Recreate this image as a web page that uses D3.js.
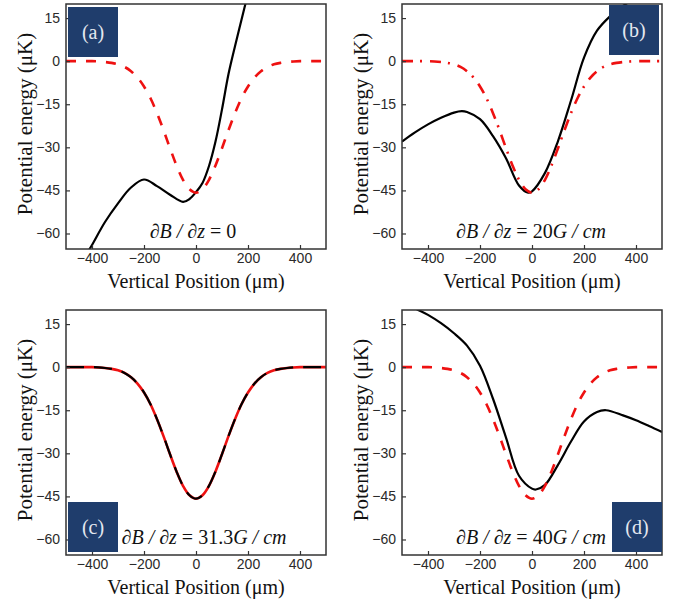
<!DOCTYPE html>
<html>
<head>
<meta charset="utf-8">
<script src="https://cdnjs.cloudflare.com/ajax/libs/d3/7.8.5/d3.min.js"></script>
<style>
  body { margin: 0; background: #fff; }
  .tick text { font-family: 'Liberation Sans', Arial, sans-serif; font-size: 14px; fill: #2a2a2a; }
  .tick line { stroke: #333; stroke-width: 1.2; }
  .axis-title { font-family: 'Liberation Serif', 'Times New Roman', serif; fill: #111; }
  .note { font-family: 'Liberation Serif', 'Times New Roman', serif; font-size: 20px; fill: #111; }
  .tag { font-family: 'Liberation Serif', 'Times New Roman', serif; font-size: 20px; fill: #e4e8f0; }
</style>
</head>
<body>
<script>
// tick values
const xTicks = [-400, -200, 0, 200, 400];
const yTicks = [15, 0, -15, -30, -45, -60];

// optical trap well (red)
const wellX = [-500, -475, -450, -425, -400, -375, -350, -325, -300, -275, -250, -225, -200, -175, -150, -125, -100, -75, -50, -25,
  0, 25, 50, 75, 100, 125, 150, 175, 200, 225, 250, 275, 300, 325, 350, 375, 400, 425, 450, 475, 500];
const wellU = [0, 0, 0, 0, 0, -0.1, -0.3, -0.6, -1.1, -2.0, -3.5, -5.7, -8.8, -12.9, -18.1, -24.0, -30.3, -36.3, -41.3, -44.6,
  -45.8, -44.6, -41.3, -36.3, -30.3, -24.0, -18.1, -12.9, -8.8, -5.7, -3.5, -2.0, -1.1, -0.6, -0.3, -0.1, 0, 0, 0, 0, 0];

// total potential (black), one per gradient
const aX = [-420, -400, -350, -300, -250, -200, -150, -100, -50, -25, 0, 25, 50, 75, 100, 125, 150, 175, 200];
const aU = [-67, -64, -56, -49.5, -44, -41.2, -43.5, -46.5, -49, -48, -45.6, -42.4, -36.5, -28, -16.8, -4.5, 5.2, 14.4, 23.6];

const bX = [-500, -450, -400, -350, -300, -270, -250, -200, -150, -100, -50, -15, 0, 50, 100, 150, 200, 250, 300, 350, 380];
const bU = [-28, -24.8, -22, -19.7, -17.9, -17.4, -17.7, -20.2, -26.1, -33.8, -43.3, -45.8, -45.3, -38.9, -27.8, -13.7, 1.2, 10.6, 15.6, 19.2, 21];

const cX = wellX;
const cU = wellU;

const dX = [-470, -450, -400, -350, -300, -250, -200, -150, -100, -50, 0, 15, 50, 100, 150, 200, 250, 285, 350, 400, 450, 500];
const dU = [21.6, 20.5, 18.2, 15.3, 11.8, 7.5, 0.5, -11, -24.5, -37.8, -42.3, -42.6, -41, -34, -25.9, -18.9, -15.6, -15, -16.8, -18.5, -20.5, -22.6];

const labels = ['(a)', '(b)', '(c)', '(d)'];
const gradients = ['0', '20', '31.3', '40'];

const W = 674;
const H = 606;
const pw = 260;
const ph = 245;

const svg = d3.select('body')
  .append('svg')
  .attr('width', W)
  .attr('height', H);

const panels = [
  {left: 66, top: 4, xs: aX, us: aU, red: 'dash', tagX: 2, tagY: 3, noteX: 127, unit: false},
  {left: 402, top: 4, xs: bX, us: bU, red: 'dashdot', tagX: 207, tagY: 1, noteX: 129, unit: true},
  {left: 66, top: 310, xs: cX, us: cU, red: 'under', tagX: 2, tagY: 192, noteX: 138, unit: true},
  {left: 402, top: 310, xs: dX, us: dU, red: 'dash', tagX: 210, tagY: 192, noteX: 129, unit: true}
];

const x = d3.scaleLinear().domain([-500, 500]).range([0, pw]);
const y = d3.scaleLinear().domain([-65.4, 19.9]).range([ph, 0]);

const line = d3.line()
  .x((d) => x(d[0]))
  .y((d) => y(d[1]))
  .curve(d3.curveCatmullRom);

panels.forEach(function(p, i) {
  const g = svg.append('g')
    .attr('transform', 'translate(' + p.left + ',' + p.top + ')');

  g.append('clipPath')
    .attr('id', 'clip' + i)
    .append('rect')
    .attr('width', pw)
    .attr('height', ph);

  const plot = g.append('g').attr('clip-path', 'url(#clip' + i + ')');

  const well = wellX.map((v, k) => [v, wellU[k]]);
  const total = p.xs.map((v, k) => [v, p.us[k]]);

  if (p.red === 'under') {
    plot.append('path')
      .datum(well)
      .attr('d', line)
      .attr('fill', 'none')
      .attr('stroke', '#ee1111')
      .attr('stroke-width', 2.6);
    plot.append('path')
      .datum(total)
      .attr('d', line)
      .attr('fill', 'none')
      .attr('stroke', '#000')
      .attr('stroke-width', 2.2)
      .attr('stroke-dasharray', '18,10');
  } else {
    plot.append('path')
      .datum(total)
      .attr('d', line)
      .attr('fill', 'none')
      .attr('stroke', '#000')
      .attr('stroke-width', 2.2);
    plot.append('path')
      .datum(well)
      .attr('d', line)
      .attr('fill', 'none')
      .attr('stroke', '#ee1111')
      .attr('stroke-width', 2.6)
      .attr('stroke-dasharray', p.red === 'dashdot' ? '11,7,2,8' : '10,10');
  }

  // axes with small inward ticks
  const xAxis = d3.axisBottom(x).tickValues(xTicks).tickSizeInner(-4).tickSizeOuter(0).tickPadding(4);
  g.append('g')
    .attr('transform', 'translate(0,' + ph + ')')
    .call(xAxis)
    .call((s) => s.select('.domain').remove());

  const yAxis = d3.axisLeft(y).tickValues(yTicks).tickSizeInner(-4).tickSizeOuter(0).tickPadding(6);
  g.append('g')
    .call(yAxis)
    .call((s) => s.select('.domain').remove());

  // frame
  g.append('rect')
    .attr('width', pw)
    .attr('height', ph)
    .attr('fill', 'none')
    .attr('stroke', '#333')
    .attr('stroke-width', 1.5);

  // panel tag
  g.append('rect')
    .attr('x', p.tagX)
    .attr('y', p.tagY)
    .attr('width', 50)
    .attr('height', 50)
    .attr('fill', '#1f3d6c');
  g.append('text')
    .attr('class', 'tag')
    .attr('x', p.tagX + 25)
    .attr('y', p.tagY + 32)
    .attr('text-anchor', 'middle')
    .text(labels[i]);

  // gradient note
  const note = g.append('text')
    .attr('class', 'note')
    .attr('x', p.noteX)
    .attr('y', 234)
    .attr('text-anchor', 'middle');
  note.append('tspan').attr('font-style', 'italic').text('\u2202B / \u2202z');
  note.append('tspan').text(' = ' + gradients[i]);
  if (p.unit) note.append('tspan').attr('font-style', 'italic').text('G / cm');

  // axis titles
  g.append('text')
    .attr('class', 'axis-title')
    .attr('font-size', 20)
    .attr('x', pw / 2)
    .attr('y', ph + 39)
    .attr('text-anchor', 'middle')
    .text('Vertical Position (\u03bcm)');

  g.append('text')
    .attr('class', 'axis-title')
    .attr('font-size', 21)
    .attr('transform', 'translate(' + (-34) + ',' + 120 + ') rotate(-90)')
    .attr('text-anchor', 'middle')
    .text('Potential energy (\u03bcK)');
});
</script>
</body>
</html>
